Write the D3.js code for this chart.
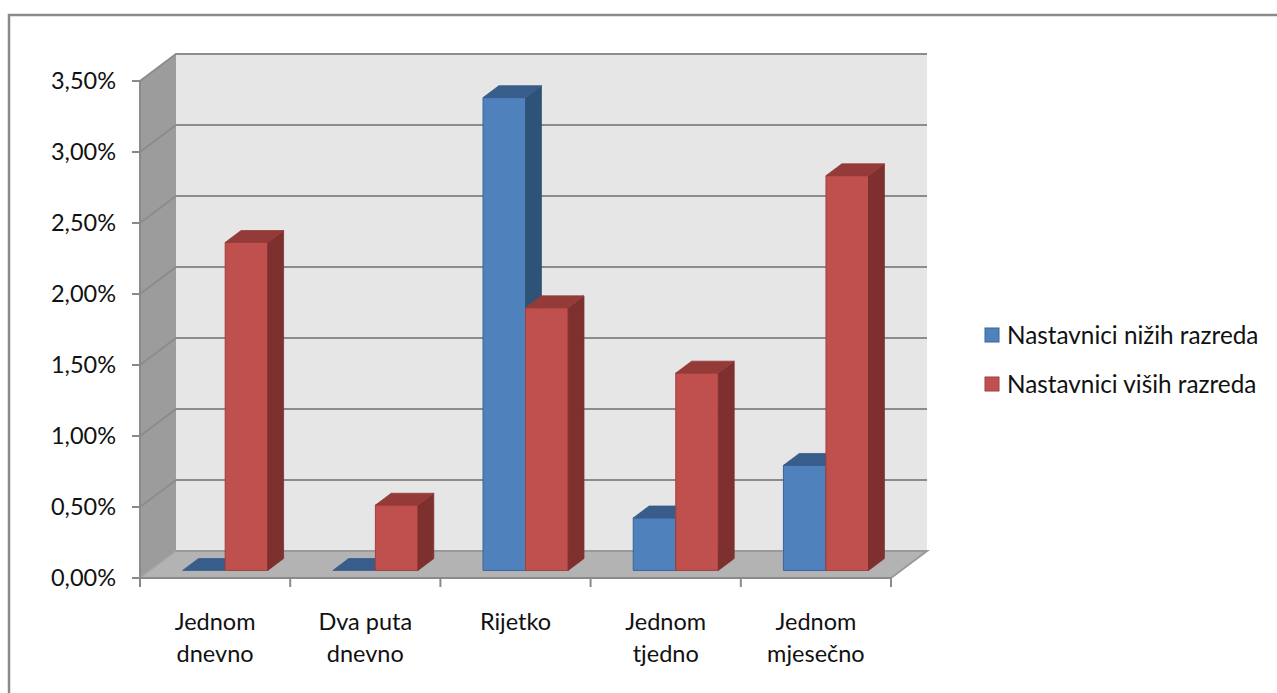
<!DOCTYPE html>
<html>
<head>
<meta charset="utf-8">
<script src="https://cdn.jsdelivr.net/npm/d3@7"></script>
<style>
  html, body { margin: 0; padding: 0; background: #fff; }
  svg { display: block; }
  text { font-family: Lato, "Open Sans", sans-serif; fill: #111; }
</style>
</head>
<body>
<svg id="chart" width="1277" height="693"></svg>
<script>
// Categories (two-line labels) and series values (share of teachers, %)
const categories = ["Jednom dnevno", "Dva puta dnevno", "Rijetko", "Jednom tjedno", "Jednom mjesečno"];
const categoryLines = [["Jednom", "dnevno"], ["Dva puta", "dnevno"], ["Rijetko"], ["Jednom", "tjedno"], ["Jednom", "mjesečno"]];
const seriesNames = ["Nastavnici nižih razreda", "Nastavnici viših razreda"];
const lowerGrades = [0, 0, 3.33, 0.37, 0.74];
const upperGrades = [2.31, 0.46, 1.85, 1.39, 2.78];
const yTicks = [0, 0.5, 1, 1.5, 2, 2.5, 3, 3.5];
const yTickLabels = ["0,00%", "0,50%", "1,00%", "1,50%", "2,00%", "2,50%", "3,00%", "3,50%"];

const series = [
  { name: seriesNames[0], values: lowerGrades, front: "#4f81bd", top: "#385d8a", side: "#2f5277", stroke: "#3a659a" },
  { name: seriesNames[1], values: upperGrades, front: "#c0504d", top: "#943b39", side: "#7d302e", stroke: "#a2413e" }
];

const svg = d3.select("#chart");

// Plot geometry: front plane and oblique depth offset
const left = 140, right = 891, bottom = 578, topY = 81;
const DX = 36, DY = -27;               // full depth of the plot box
const d0 = 0.28, d1 = 0.72;            // bar depth span
const proj = (x, y, d) => [x + DX * d, y + DY * d];

const y = d3.scaleLinear().domain([0, 3.5]).range([bottom, topY]);
const x = d3.scaleBand().domain(categories).range([left, right]).paddingInner(0.4333).paddingOuter(0.21667);
const xs = d3.scaleBand().domain(seriesNames).range([0, x.bandwidth()]);
const step = x.step();

const poly = pts => "M" + pts.map(p => p.join(",")).join("L") + "Z";

// Outer chart border
svg.append("path")
  .attr("d", "M9,700 L9,15 L1290,15")
  .attr("fill", "none").attr("stroke", "#8a8a8a").attr("stroke-width", 2.5);

// Back wall
svg.append("path")
  .attr("d", poly([proj(left, topY, 1), proj(right, topY, 1), proj(right, bottom, 1), proj(left, bottom, 1)]))
  .attr("fill", "#e6e6e6");

// Side wall
svg.append("path")
  .attr("d", poly([proj(left, topY, 0), proj(left, topY, 1), proj(left, bottom, 1), proj(left, bottom, 0)]))
  .attr("fill", "#9c9c9c");

// Floor
svg.append("path")
  .attr("d", poly([proj(left, bottom, 0), proj(right, bottom, 0), proj(right, bottom, 1), proj(left, bottom, 1)]))
  .attr("fill", "#b3b3b3");

// Gridlines on side and back walls
const grid = svg.append("g").attr("fill", "none").attr("stroke", "#8c8c8c").attr("stroke-width", 2);
yTicks.filter(t => t > 0).forEach(t => {
  const a = proj(left, y(t), 0), b = proj(left, y(t), 1), c = proj(right, y(t), 1);
  grid.append("path").attr("d", `M${a}L${b}L${c}`);
});
// Floor outline
grid.append("path")
  .attr("d", `M${proj(left, bottom, 1)}L${proj(right, bottom, 1)}L${proj(right, bottom, 0)}`)
  .attr("stroke", "#9a9a9a");
grid.append("path")
  .attr("d", `M${proj(left, bottom, 0)}L${proj(left, bottom, 1)}`)
  .attr("stroke", "#a5a5a5").attr("stroke-width", 1.5);

// Bars
const bars = svg.append("g");
categories.forEach((cat, i) => {
  series.forEach(s => {
    const v = s.values[i];
    const x0 = x(cat) + xs(s.name), x1 = x0 + xs.bandwidth();
    const yv = y(v), yb = y(0);
    const g = bars.append("g");
    if (v > 0) {
      g.append("path")
        .attr("d", poly([proj(x0, yv, d0), proj(x1, yv, d0), proj(x1, yb, d0), proj(x0, yb, d0)]))
        .attr("fill", s.front).attr("stroke", s.stroke).attr("stroke-width", 1);
      g.append("path")
        .attr("d", poly([proj(x1, yv, d0), proj(x1, yv, d1), proj(x1, yb, d1), proj(x1, yb, d0)]))
        .attr("fill", s.side).attr("stroke", s.side).attr("stroke-width", 0.8);
    }
    g.append("path")
      .attr("d", poly([proj(x0, yv, d0), proj(x1, yv, d0), proj(x1, yv, d1), proj(x0, yv, d1)]))
      .attr("fill", s.top).attr("stroke", s.top).attr("stroke-width", 0.8);
  });
});

// Value axis
const axisG = svg.append("g").attr("stroke", "#8a8a8a").attr("stroke-width", 2);
axisG.append("line").attr("x1", left).attr("x2", left).attr("y1", topY).attr("y2", bottom + 1);
yTicks.forEach(t => {
  axisG.append("line").attr("x1", left - 8).attr("x2", left).attr("y1", y(t)).attr("y2", y(t));
});
svg.append("g").selectAll("text").data(yTicks).join("text")
  .attr("x", 116).attr("y", d => y(d)).attr("dy", "0.35em")
  .attr("text-anchor", "end").attr("font-size", 23.5)
  .text((d, i) => yTickLabels[i]);

// Category axis
axisG.append("line").attr("x1", left).attr("x2", right).attr("y1", bottom).attr("y2", bottom);
d3.range(categories.length + 1).forEach(k => {
  const xx = left + k * step;
  axisG.append("line").attr("x1", xx).attr("x2", xx).attr("y1", bottom).attr("y2", bottom + 9);
});
const catG = svg.append("g");
categories.forEach((cat, i) => {
  const cx = x(cat) + x.bandwidth() / 2;
  const lines = categoryLines[i];
  lines.forEach((ln, j) => {
    catG.append("text")
      .attr("x", cx).attr("y", 630 + j * 32)
      .attr("text-anchor", "middle").attr("font-size", 23.5)
      .text(ln);
  });
});

// Legend
const legend = svg.append("g");
series.forEach((s, i) => {
  const cy = 335 + i * 49;
  legend.append("rect")
    .attr("x", 985).attr("y", cy - 7).attr("width", 14).attr("height", 14)
    .attr("fill", s.front).attr("stroke", s.stroke).attr("stroke-width", 1);
  legend.append("text")
    .attr("x", 1007).attr("y", cy).attr("dy", "0.36em")
    .attr("font-size", 24.3)
    .text(s.name);
});
</script>
</body>
</html>
